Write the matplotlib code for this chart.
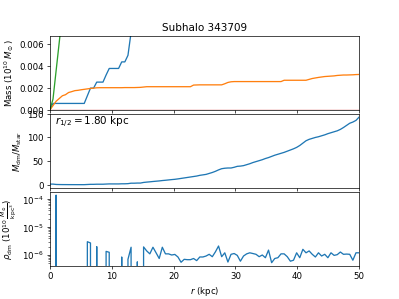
import numpy as np
import matplotlib
matplotlib.use('Agg')
import matplotlib.pyplot as plt

# radial bins (kpc)
r = np.linspace(0, 50, 100)

# cumulative masses (1e10 Msun)
m_dm = [0, 0.0006, 0.0006, 0.0006, 0.0006, 0.0006, 0.0006, 0.0006, 0.0006, 0.0006,
        0.0006, 0.0006, 0.0013, 0.0020, 0.0020, 0.00255, 0.00255, 0.00255, 0.0032, 0.0038,
        0.0038, 0.0038, 0.0038, 0.0044, 0.0044, 0.0050, 0.0071, 0.0072, 0.0078, 0.0078,
        0.0105, 0.0121, 0.0134, 0.0149, 0.0162, 0.0175, 0.0192, 0.0204, 0.0219, 0.0234,
        0.0247, 0.0266, 0.0288, 0.0309, 0.0330, 0.0351, 0.0399, 0.0424, 0.046, 0.048,
        0.051, 0.055, 0.060, 0.065, 0.072, 0.078, 0.084, 0.088, 0.090, 0.095,
        0.101, 0.103, 0.105, 0.110, 0.116, 0.122, 0.127, 0.133, 0.138, 0.144,
        0.149, 0.156, 0.163, 0.168, 0.174, 0.186, 0.193, 0.200, 0.207, 0.215,
        0.226, 0.239, 0.253, 0.269, 0.282, 0.293, 0.302, 0.313, 0.323, 0.333,
        0.341, 0.349, 0.360, 0.372, 0.387, 0.402, 0.417, 0.427, 0.441, 0.465]
m_star = [0, 0.0004, 0.0008, 0.00105, 0.0013, 0.0014, 0.0016, 0.00168, 0.00177, 0.0018,
          0.00185, 0.00189, 0.00193, 0.00197, 0.0020, 0.00203, 0.00204, 0.00204, 0.00204, 0.00204,
          0.00204, 0.00204, 0.00204, 0.00204, 0.00205, 0.00205, 0.00205, 0.00205, 0.00206, 0.00207,
          0.0021, 0.00213, 0.00213, 0.00213, 0.00213, 0.00213, 0.00213, 0.00213, 0.00213, 0.00213,
          0.00213, 0.00213, 0.00213, 0.00213, 0.00213, 0.00213, 0.00228, 0.00229, 0.0023, 0.0023,
          0.0023, 0.0023, 0.0023, 0.0023, 0.0023, 0.0023, 0.0024, 0.00252, 0.00258, 0.0026,
          0.0026, 0.0026, 0.0026, 0.0026, 0.0026, 0.0026, 0.0026, 0.0026, 0.0026, 0.0026,
          0.0026, 0.0026, 0.0026, 0.0026, 0.0026, 0.00272, 0.00272, 0.00272, 0.00272, 0.00272,
          0.00272, 0.00272, 0.00272, 0.0028, 0.00288, 0.00293, 0.00298, 0.00302, 0.00306, 0.00308,
          0.0031, 0.00312, 0.00316, 0.00318, 0.0032, 0.0032, 0.00321, 0.00322, 0.00324, 0.00325]
m_gas = [0, 0.001, 0.0036, 0.0062, 0.0088, 0.011, 0.013, 0.015, 0.017, 0.018,
         0.019, 0.020, 0.021, 0.022, 0.023, 0.024, 0.025, 0.026, 0.027, 0.028,
         0.029, 0.030, 0.031, 0.032, 0.033, 0.034, 0.035, 0.036, 0.037, 0.038,
         0.039, 0.040, 0.041, 0.042, 0.043, 0.044, 0.045, 0.046, 0.047, 0.048,
         0.049, 0.050, 0.051, 0.052, 0.053, 0.054, 0.055, 0.056, 0.057, 0.058,
         0.059, 0.060, 0.061, 0.062, 0.063, 0.064, 0.065, 0.066, 0.067, 0.068,
         0.069, 0.070, 0.071, 0.072, 0.073, 0.074, 0.075, 0.076, 0.077, 0.078,
         0.079, 0.080, 0.081, 0.082, 0.083, 0.084, 0.085, 0.086, 0.087, 0.088,
         0.089, 0.090, 0.091, 0.092, 0.093, 0.094, 0.095, 0.096, 0.097, 0.098,
         0.099, 0.100, 0.101, 0.102, 0.103, 0.104, 0.105, 0.106, 0.107, 0.108]
m_bh = [0] * 100

# dark matter to stellar mass ratio
ratio = [1.5, 1.5, 0.75, 0.57, 0.46, 0.43, 0.375, 0.36, 0.34, 0.33,
         0.32, 0.32, 0.67, 1.0, 1.0, 1.26, 1.25, 1.25, 1.6, 1.9,
         1.86, 1.86, 1.86, 2.15, 2.15, 2.45, 3.4, 3.4, 3.7, 3.7,
         5.0, 5.7, 6.3, 7.0, 7.6, 8.2, 9.0, 9.6, 10.3, 11.0,
         11.6, 12.5, 13.5, 14.5, 15.5, 16.5, 17.5, 18.5, 20, 21,
         22, 24, 26, 28.5, 31.5, 34, 35, 35.5, 35.5, 37,
         39, 39.5, 40.5, 42.5, 44.5, 47, 49, 51, 53, 55.5,
         57.5, 60, 62.5, 64.5, 66.5, 68.5, 71, 73.5, 76, 79,
         83, 88, 93, 96, 98, 100, 101.5, 103.5, 105.5, 108,
         110, 112, 114, 117, 121, 125.5, 130, 132.5, 136, 143]

# dark matter density (1e10 Msun / kpc^3)
rho_dm = [0, 0, 1.4e-4, 0, 0, 0, 0, 0, 0, 0,
          0, 0, 3.0e-6, 2.7e-6, 0, 2.0e-6, 0, 0, 1.35e-6, 1.25e-6,
          0, 0, 0, 8.5e-7, 0, 7.0e-7, 1.9e-6, 0, 5.7e-7, 0,
          1.95e-6, 1.4e-6, 1.1e-6, 1.9e-6, 1.2e-6, 7.5e-7, 1.9e-6, 1.1e-6, 1.1e-6, 1.0e-6,
          1.05e-6, 8.5e-7, 5.5e-7, 7.0e-7, 6.8e-7, 6.8e-7, 7.5e-7, 6.3e-7, 8.5e-7, 8.5e-7,
          9.2e-7, 1.06e-6, 8.7e-7, 1.3e-6, 2.1e-6, 8.7e-7, 1.2e-6, 5.6e-7, 1.06e-6, 1.13e-6,
          9.7e-7, 6.0e-7, 9.2e-7, 1.1e-6, 1.2e-6, 1.13e-6, 1.06e-6, 8.7e-7, 1.0e-6, 8.0e-7,
          1.5e-6, 5.3e-7, 7.5e-7, 8.0e-7, 1.1e-6, 1.1e-6, 8.7e-7, 6.0e-7, 6.5e-7, 1.2e-6,
          8.0e-7, 1.6e-6, 1.2e-6, 1.4e-6, 1.06e-6, 8.5e-7, 1.2e-6, 9.2e-7, 1.06e-6, 8.0e-7,
          1.2e-6, 9.7e-7, 1.03e-6, 1.28e-6, 1.06e-6, 1.08e-6, 1.06e-6, 6.5e-7, 1.2e-6, 1.2e-6]

fig, axes = plt.subplots(3, 1, sharex=True, figsize=(6.4, 4.8), dpi=399 / 6.4)
plt.subplots_adjust(hspace=0.05)

ax = axes[0]
ax.plot(r, m_dm)
ax.plot(r, m_star)
ax.plot(r, m_gas)
ax.plot(r, m_bh)
ax.set_ylim(0, 0.0068)
ax.set_ylabel(r'Mass ($10^{10}\,M_\odot$)')
ax.set_title('Subhalo 343709')

ax = axes[1]
ax.plot(r, ratio)
ax.set_ylabel(r'$M_{\rm dm}/M_{\rm star}$')
ax.text(0.017, 0.885, r'$r_{1/2} = 1.80$ kpc', transform=ax.transAxes,
        va='center', fontsize=12)

ax = axes[2]
ax.plot(r, rho_dm)
ax.set_yscale('log')
ax.set_ylabel(r'$\rho_{\rm dm}$ ($10^{10}\,\frac{M_\odot}{\rm kpc^3}$)')
ax.set_xlabel(r'$r$ (kpc)')
ax.set_xlim(0, 50)

plt.savefig('out.png')
